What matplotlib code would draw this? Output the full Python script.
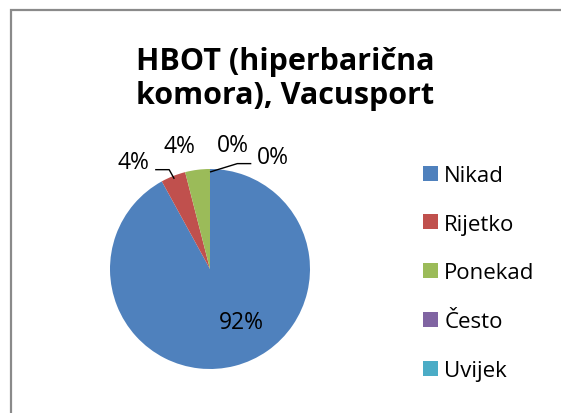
import numpy as np
import matplotlib
matplotlib.use("Agg")
import matplotlib.pyplot as plt
from matplotlib.patches import Rectangle

categories = ["Nikad", "Rijetko", "Ponekad", "Često", "Uvijek"]
values = [23, 1, 1, 0, 0]
pct_labels = ["92%", "4%", "4%", "0%", "0%"]
colors = ["#4F81BD", "#C0504D", "#9BBB59", "#8064A2", "#4BACC6"]
title = "HBOT (hiperbarična\nkomora), Vacusport"

# label placement style (angle offset from wedge mid angle, radius, leader)
label_angle_offset = [16, 14, 6.5, -10.5, -29.4]
label_radius = [0.62, 1.32, 1.27, 1.26, 1.29]
leader = [False, True, False, False, True]

W, H = 561, 414
fig = plt.figure(figsize=(W / 100, H / 100), dpi=100)
plt.rcParams['font.family'] = ['Open Sans', 'DejaVu Sans']

def px(x, y):
    return x / W, 1 - y / H

# border
fig.patches.append(Rectangle(px(10.5, 600), 700 / W, (600 - 10.5) / H,
                             transform=fig.transFigure, fill=False,
                             edgecolor="#8a8a8a", linewidth=1.6))

cx, cy, R = 210, 270, 100
half = 150
ax = fig.add_axes([(cx - half) / W, (H - cy - half) / H, 2 * half / W, 2 * half / H])

wedges, _ = ax.pie(values, colors=colors, startangle=90, counterclock=False,
                   radius=1.0, wedgeprops=dict(linewidth=0))
ax.set_xlim(-1.5, 1.5)
ax.set_ylim(-1.5, 1.5)
ax.set_aspect('equal')
ax.axis('off')

for i, w in enumerate(wedges):
    mid = np.deg2rad((w.theta1 + w.theta2) / 2)
    ang = mid + np.deg2rad(label_angle_offset[i])
    r = label_radius[i]
    lx, ly = r * np.cos(ang), r * np.sin(ang)
    ax.text(lx, ly, pct_labels[i], ha='center', va='center', fontsize=16.5, color='black')
    if leader[i]:
        ax_x, ax_y = 0.97 * np.cos(mid), 0.97 * np.sin(mid)
        side = 1 if lx > ax_x else -1
        end_x = lx - side * 0.22
        end_y = ly - 0.08 if side < 0 else ly - 0.07
        elbow_x = end_x - side * 0.14
        ax.plot([ax_x, elbow_x, end_x], [ax_y, end_y, end_y], color='black', lw=1.0,
                clip_on=False, solid_capstyle='butt')

fig.text(285 / W, 1 - 79 / H, title, ha='center', va='center', fontsize=22,
         fontweight='bold', linespacing=1.2)

leg = fig.legend(wedges, categories, loc='upper left', bbox_to_anchor=px(414, 157),
                 frameon=False, fontsize=16, handlelength=0.66, handleheight=0.66,
                 handletextpad=0.3, labelspacing=1.25, borderaxespad=0)

fig.savefig("out.png", dpi=100)
